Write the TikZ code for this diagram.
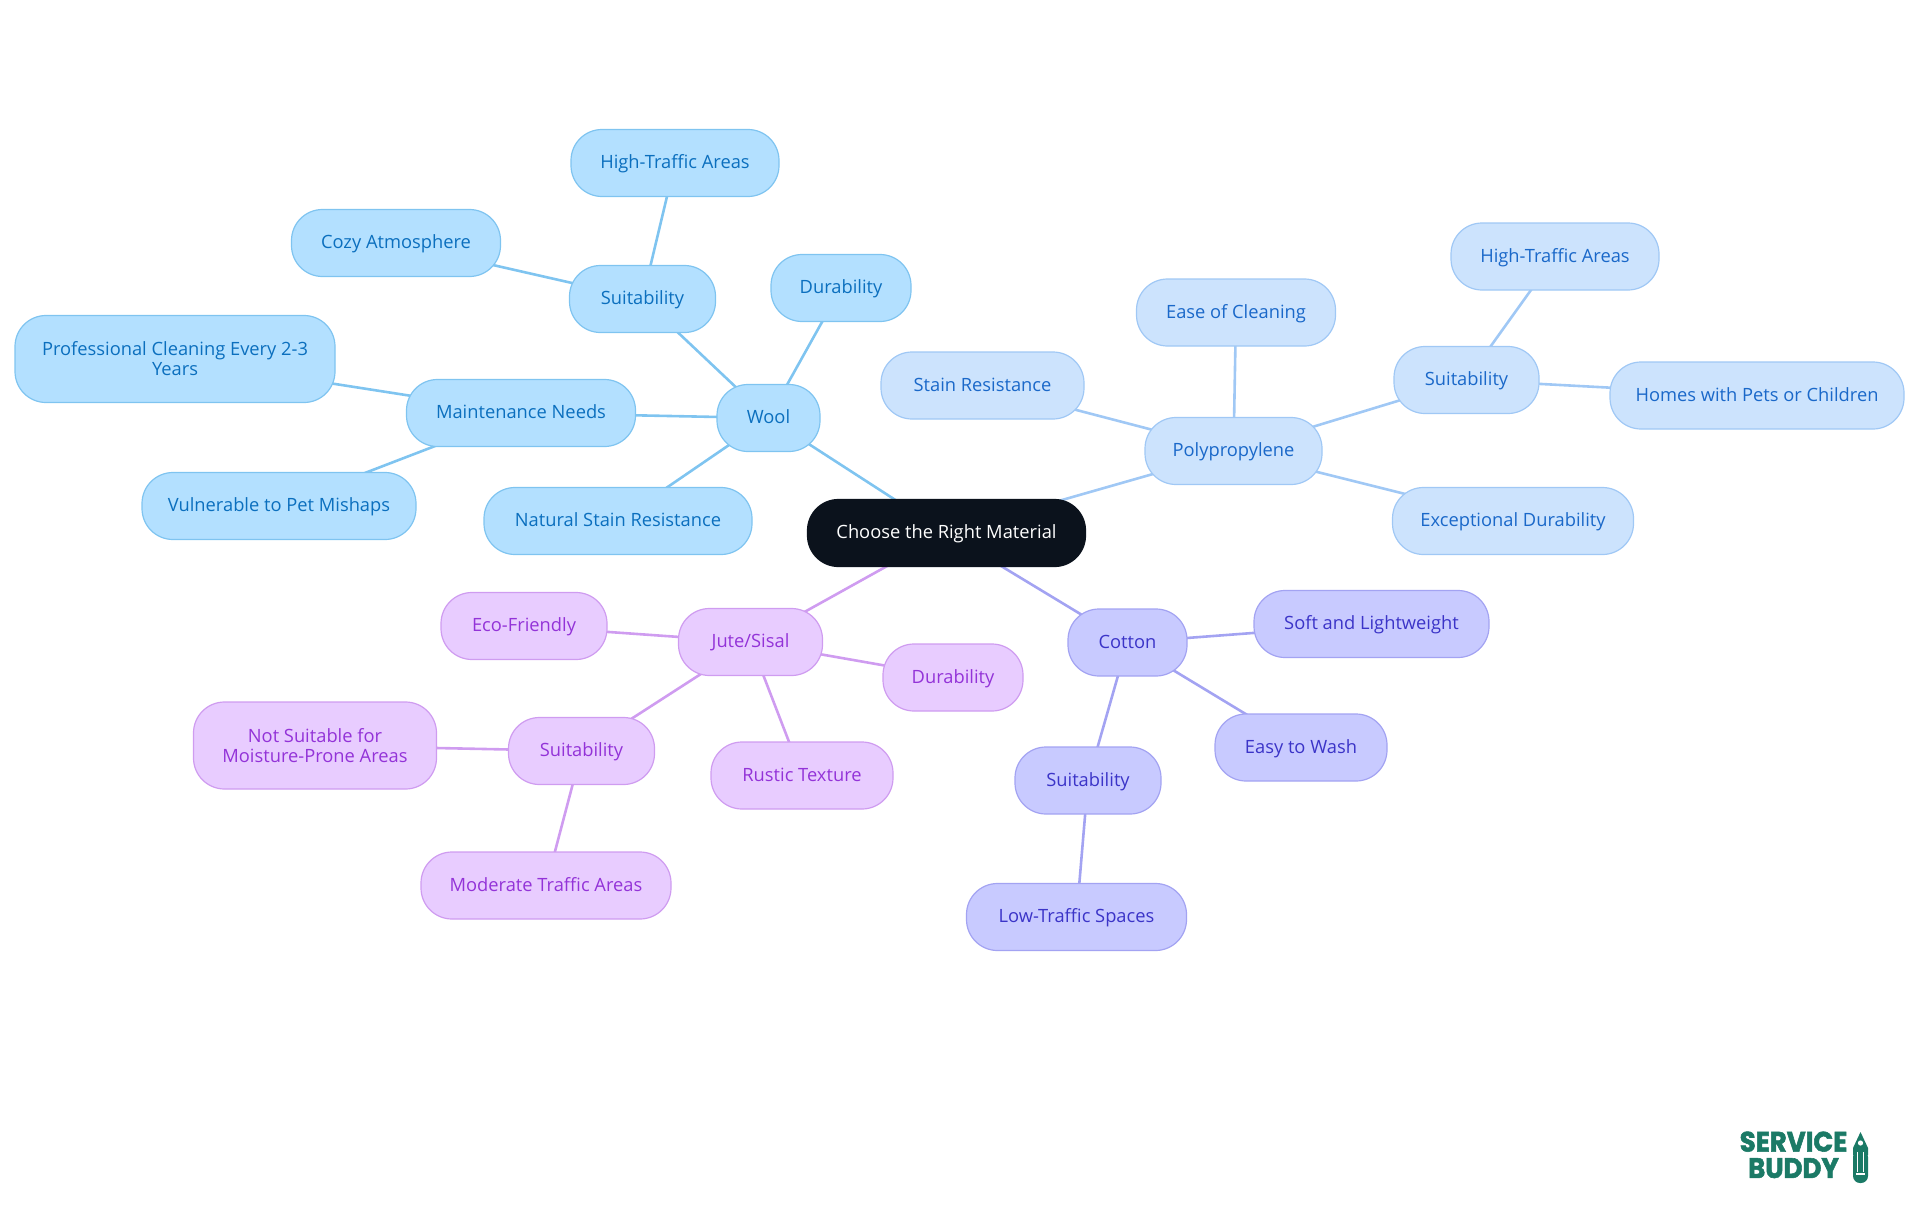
\documentclass[tikz,border=0pt]{standalone}
\usepackage{fontspec}
\usepackage{xcolor}
\usetikzlibrary{backgrounds}
\setmainfont{Open Sans}
\newfontfamily\logofont[BoldFeatures={FakeBold=2}]{Poppins}
\newcommand{\nodestrut}{\rule[-4.5pt]{0pt}{20pt}}
\newcommand{\tallstrut}{\rule{0pt}{17.5pt}}
\definecolor{rootfill}{HTML}{0B121C}
\definecolor{woolfill}{HTML}{B3E0FF}
\definecolor{woolline}{HTML}{7FC4F0}
\definecolor{wooltext}{HTML}{0B6FBE}
\definecolor{polyfill}{HTML}{CCE3FD}
\definecolor{polyline}{HTML}{A0C8F5}
\definecolor{polytext}{HTML}{1A68C9}
\definecolor{cottonfill}{HTML}{C8CAFF}
\definecolor{cottonline}{HTML}{A3A3F2}
\definecolor{cottontext}{HTML}{3B34C8}
\definecolor{jutefill}{HTML}{E8CCFF}
\definecolor{juteline}{HTML}{CF9CF0}
\definecolor{jutetext}{HTML}{9333D8}
\definecolor{logogreen}{HTML}{1B7A66}

\begin{document}
\begin{tikzpicture}[x=1pt,y=-1pt]
        \useasboundingbox (0,0) rectangle (1920,1215);
        \tikzstyle{every node}=[draw,rounded corners=31pt,inner sep=0pt,minimum height=67pt,line width=1.2pt,align=center,font=\fontsize{18.3}{20}\selectfont,execute at begin node=\nodestrut,execute at end node=\nodestrut]
        \tikzstyle{rootnode}=[fill=rootfill,draw=rootfill,text=white]
        \tikzstyle{woolnode}=[fill=woolfill,draw=woolline,text=wooltext]
        \tikzstyle{polynode}=[fill=polyfill,draw=polyline,text=polytext]
        \tikzstyle{cottonnode}=[fill=cottonfill,draw=cottonline,text=cottontext]
        \tikzstyle{jutenode}=[fill=jutefill,draw=juteline,text=jutetext]
        \tikzstyle{wooledge}=[draw=woolline,line width=2.6pt]
        \tikzstyle{polyedge}=[draw=polyline,line width=2.6pt]
        \tikzstyle{cottonedge}=[draw=cottonline,line width=2.6pt]
        \tikzstyle{juteedge}=[draw=juteline,line width=2.6pt]
        \tikzstyle{logotext}=[draw=none,inner sep=0pt,minimum height=0pt,text=logogreen,font=\logofont\bfseries\fontsize{26}{26}\selectfont,execute at begin node=,execute at end node=,yscale=1.08,transform shape]

        \node[rootnode,minimum width=278pt] (root) at (946.5,533) {Choose the Right Material};

        \node[woolnode,minimum width=103pt] (wool) at (768.5,418) {Wool};
        \node[woolnode,minimum width=146pt] (woolsuit) at (642.5,299) {Suitability};
        \node[woolnode,minimum width=208pt] (woolhigh) at (675,163) {High-Traffic Areas};
        \node[woolnode,minimum width=209pt] (woolcozy) at (396,243) {Cozy Atmosphere};
        \node[woolnode,minimum width=140pt] (wooldur) at (841,288) {Durability};
        \node[woolnode,minimum width=229pt] (woolmaint) at (521,413) {Maintenance Needs};
        \node[woolnode,minimum width=320pt,minimum height=87pt] (woolclean) at (175,359) {\tallstrut Professional Cleaning Every 2-3\\Years};
        \node[woolnode,minimum width=274pt] (woolpet) at (279,506) {Vulnerable to Pet Mishaps};
        \node[woolnode,minimum width=268pt] (woolstain) at (618,521) {Natural Stain Resistance};

        \node[polynode,minimum width=177pt] (poly) at (1233.5,451) {Polypropylene};
        \node[polynode,minimum width=203pt] (polystain) at (982.5,385.5) {Stain Resistance};
        \node[polynode,minimum width=199pt] (polyease) at (1236,312.5) {Ease of Cleaning};
        \node[polynode,minimum width=145pt] (polysuit) at (1466.5,380) {Suitability};
        \node[polynode,minimum width=208pt] (polyhigh) at (1555,256.5) {High-Traffic Areas};
        \node[polynode,minimum width=294pt] (polyhomes) at (1757,395.5) {Homes with Pets or Children};
        \node[polynode,minimum width=241pt] (polydur) at (1513,521) {Exceptional Durability};

        \node[cottonnode,minimum width=119pt] (cotton) at (1127.5,642.5) {Cotton};
        \node[cottonnode,minimum width=235pt] (cottonsoft) at (1371.5,624) {Soft and Lightweight};
        \node[cottonnode,minimum width=172pt] (cottoneasy) at (1301,747.5) {Easy to Wash};
        \node[cottonnode,minimum width=146pt] (cottonsuit) at (1088,780.5) {Suitability};
        \node[cottonnode,minimum width=220pt] (cottonlow) at (1076.5,917) {Low-Traffic Spaces};

        \node[jutenode,minimum width=144pt] (jute) at (750.5,642) {Jute/Sisal};
        \node[jutenode,minimum width=166pt] (juteeco) at (524,626) {Eco-Friendly};
        \node[jutenode,minimum width=140pt] (jutedur) at (953,677.5) {Durability};
        \node[jutenode,minimum width=182pt] (juterustic) at (802,775.5) {Rustic Texture};
        \node[jutenode,minimum width=146pt] (jutesuit) at (581.5,751) {Suitability};
        \node[jutenode,minimum width=243pt,minimum height=87pt] (jutemoist) at (315,745.5) {\tallstrut Not Suitable for\\Moisture-Prone Areas};
        \node[jutenode,minimum width=250pt] (jutemod) at (546,885.5) {Moderate Traffic Areas};

        \begin{scope}[on background layer]
        \draw[wooledge] (root.center) to (wool.center);
        \draw[wooledge] (wool.center) to (woolsuit.center);
        \draw[wooledge] (woolsuit.center) to (woolhigh.center);
        \draw[wooledge] (woolsuit.center) to (woolcozy.center);
        \draw[wooledge] (wool.center) to (wooldur.center);
        \draw[wooledge] (wool.center) to (woolmaint.center);
        \draw[wooledge] (woolmaint.center) to (woolclean.center);
        \draw[wooledge] (woolmaint.center) to (woolpet.center);
        \draw[wooledge] (wool.center) to (woolstain.center);

        \draw[polyedge] (root.center) to (poly.center);
        \draw[polyedge] (poly.center) to (polystain.center);
        \draw[polyedge] (poly.center) to (polyease.center);
        \draw[polyedge] (poly.center) to (polysuit.center);
        \draw[polyedge] (polysuit.center) to (polyhigh.center);
        \draw[polyedge] (polysuit.center) to (polyhomes.center);
        \draw[polyedge] (poly.center) to (polydur.center);

        \draw[cottonedge] (root.center) to (cotton.center);
        \draw[cottonedge] (cotton.center) to (cottonsoft.center);
        \draw[cottonedge] (cotton.center) to (cottoneasy.center);
        \draw[cottonedge] (cotton.center) to (cottonsuit.center);
        \draw[cottonedge] (cottonsuit.center) to (cottonlow.center);

        \draw[juteedge] (root.center) to (jute.center);
        \draw[juteedge] (jute.center) to (juteeco.center);
        \draw[juteedge] (jute.center) to (jutedur.center);
        \draw[juteedge] (jute.center) to (juterustic.center);
        \draw[juteedge] (jute.center) to (jutesuit.center);
        \draw[juteedge] (jutesuit.center) to (jutemoist.center);
        \draw[juteedge] (jutesuit.center) to (jutemod.center);
        \end{scope}

        \node[logotext] (logoservice) at (1793.5,1144) {SERVICE};
        \node[logotext] (logobuddy) at (1793.5,1170.5) {BUDDY};
        \fill[logogreen] (1860.5,1132) -- (1868,1148) -- (1868,1155) -- (1853,1155) -- (1853,1148) -- cycle;
        \fill[logogreen,rounded corners=7pt] (1853,1150) rectangle (1868,1183);
        \fill[white] (1856.5,1152) rectangle (1858,1172);
        \fill[white] (1862.8,1152) rectangle (1864.3,1172);
        \fill[white] (1860.5,1143) circle (2.6pt);
        \fill[white] (1856,1173) rectangle (1865,1174.5);
\end{tikzpicture}
\end{document}
